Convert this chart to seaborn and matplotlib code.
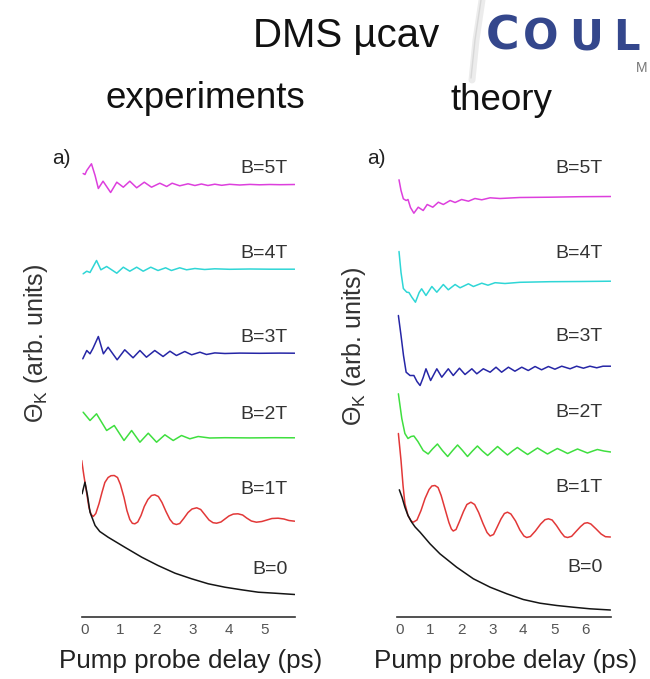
import numpy as np
import pandas as pd
import matplotlib
matplotlib.use("Agg")
import matplotlib.pyplot as plt
import seaborn as sns
from matplotlib.lines import Line2D

sns.set_style("white")
plt.rcParams["font.family"] = ["Liberation Sans", "DejaVu Sans"]
plt.rcParams["mathtext.fontset"] = "custom"
plt.rcParams["mathtext.rm"] = "Liberation Sans"
plt.rcParams["mathtext.it"] = "Liberation Sans:italic"

fields = ["B=5T", "B=4T", "B=3T", "B=2T", "B=1T", "B=0"]
colors = ["#dd3fdd", "#2fd6d6", "#2626a6", "#3fdf3f", "#e23838", "#151515"]

# ---- measured Kerr rotation traces (stacked, arb. units) ----
exp_t_5T = [-0.03, 0.02, 0.07, 0.20, 0.30, 0.39, 0.52, 0.73, 0.90, 1.08, 1.26, 1.45, 1.66, 1.86, 2.09, 2.28,
            2.43, 2.64, 2.87, 3.06, 3.24, 3.42, 3.61, 3.80, 4.02, 4.30, 4.58, 4.85, 5.13, 5.41, 5.82]
exp_5T = [44.3, 44.2, 44.6, 45.27, 44.1, 42.8, 43.53, 42.4, 43.43, 42.93, 43.53, 42.87, 43.43, 42.93, 43.33, 43.0,
          43.33, 43.07, 43.27, 43.1, 43.25, 43.1, 43.23, 43.12, 43.22, 43.15, 43.21, 43.17, 43.2, 43.18, 43.2]

exp_t_4T = [-0.03, 0.07, 0.16, 0.34, 0.46, 0.62, 0.90, 1.08, 1.26, 1.45, 1.63, 1.84, 2.04, 2.25, 2.41, 2.64,
            2.83, 3.06, 3.33, 3.61, 4.02, 4.58, 5.13, 5.82]
exp_4T = [34.27, 34.53, 34.4, 35.6, 34.67, 35.0, 34.33, 34.93, 34.53, 34.93, 34.53, 34.93, 34.6, 34.87, 34.6, 34.87,
          34.67, 34.8, 34.7, 34.77, 34.72, 34.75, 34.73, 34.73]

exp_t_3T = [-0.04, 0.07, 0.16, 0.24, 0.39, 0.53, 0.66, 0.91, 1.12, 1.35, 1.54, 1.72, 1.95, 2.18, 2.37, 2.55,
            2.78, 2.97, 3.20, 3.38, 3.61, 3.89, 4.30, 4.85, 5.41, 5.82]
exp_3T = [25.77, 26.6, 26.27, 26.8, 28.0, 26.27, 26.93, 25.67, 26.67, 25.87, 26.6, 25.93, 26.6, 26.0, 26.53, 26.1,
          26.5, 26.17, 26.43, 26.2, 26.36, 26.3, 26.34, 26.32, 26.34, 26.33]

exp_t_2T = [-0.03, 0.16, 0.34, 0.62, 0.83, 1.10, 1.31, 1.54, 1.77, 2.00, 2.23, 2.46, 2.69, 2.92, 3.15, 3.47,
            3.89, 4.58, 5.27, 5.82]
exp_2T = [20.43, 19.6, 20.27, 18.6, 19.1, 17.6, 18.6, 17.43, 18.33, 17.43, 18.17, 17.6, 18.1, 17.77, 18.0, 17.85,
          17.88, 17.86, 17.88, 17.87]

exp_t_1T = [-0.07, -0.01, 0.07, 0.13, 0.19, 0.25, 0.32, 0.41, 0.49, 0.57, 0.66, 0.74, 0.83, 0.92, 1.00, 1.10,
            1.18, 1.26, 1.33, 1.40, 1.48, 1.57, 1.66, 1.76, 1.86, 1.95, 2.05, 2.15, 2.26, 2.37, 2.46, 2.55,
            2.64, 2.75, 2.87, 2.98, 3.11, 3.22, 3.33, 3.45, 3.56, 3.66, 3.78, 3.89, 4.00, 4.12, 4.25, 4.38,
            4.49, 4.62, 4.76, 4.91, 5.05, 5.19, 5.36, 5.52, 5.66, 5.82]
exp_1T = [15.6, 14.1, 12.3, 10.9, 10.2, 10.0, 10.3, 11.3, 12.4, 13.4, 13.9, 14.08, 14.1, 13.9, 13.2, 11.9,
          10.6, 9.7, 9.32, 9.27, 9.45, 10.1, 11.0, 11.7, 12.1, 12.17, 12.0, 11.4, 10.5, 9.7, 9.3, 9.2,
          9.3, 9.8, 10.4, 10.75, 10.87, 10.7, 10.2, 9.65, 9.38, 9.33, 9.45, 9.75, 10.05, 10.24, 10.27, 10.15,
          9.85, 9.55, 9.43, 9.5, 9.65, 9.8, 9.83, 9.75, 9.6, 9.53]

exp_t_0T = [-0.06, 0.02, 0.09, 0.16, 0.30, 0.43, 0.66, 1.12, 1.59, 2.04, 2.51, 2.97, 3.43, 3.89, 4.35, 4.81,
            5.27, 5.82]
exp_0T = [12.27, 13.43, 12.1, 10.43, 9.1, 8.5, 7.93, 6.93, 5.93, 5.1, 4.33, 3.77, 3.27, 2.93, 2.67, 2.43,
          2.33, 2.2]

# ---- calculated traces (stacked, arb. units) ----
th_t_5T = [-0.01, 0.055, 0.13, 0.22, 0.28, 0.36, 0.47, 0.61, 0.77, 0.90, 1.08, 1.26, 1.42, 1.64, 1.80, 2.01,
           2.23, 2.44, 2.66, 2.93, 3.25, 3.89, 4.86, 5.83, 6.82]
th_5T = [43.67, 42.6, 41.77, 41.6, 41.7, 40.9, 40.33, 40.93, 40.6, 41.2, 40.93, 41.43, 41.2, 41.6, 41.4, 41.7,
         41.53, 41.8, 41.67, 41.87, 41.8, 41.9, 41.93, 41.98, 42.0]

th_t_4T = [-0.01, 0.055, 0.13, 0.24, 0.31, 0.41, 0.52, 0.64, 0.72, 0.86, 1.05, 1.21, 1.42, 1.58, 1.80, 1.96,
           2.23, 2.39, 2.66, 2.86, 3.09, 3.41, 3.89, 4.86, 5.83, 6.82]
th_4T = [36.5, 34.4, 32.8, 32.43, 32.4, 31.9, 31.43, 32.4, 32.77, 32.1, 33.0, 32.43, 33.2, 32.67, 33.2, 32.87,
         33.27, 33.0, 33.33, 33.13, 33.38, 33.3, 33.42, 33.48, 33.5, 33.53]

th_t_3T = [-0.03, 0.055, 0.135, 0.22, 0.345, 0.47, 0.57, 0.67, 0.77, 0.86, 1.01, 1.21, 1.37, 1.58, 1.74, 1.94,
           2.12, 2.34, 2.50, 2.71, 2.93, 3.12, 3.30, 3.52, 3.73, 3.95, 4.16, 4.38, 4.59, 4.81, 5.02, 5.24,
           5.51, 5.72, 5.94, 6.15, 6.37, 6.57, 6.82]
th_3T = [30.1, 28.1, 26.1, 24.43, 24.1, 24.1, 23.5, 23.1, 23.9, 24.77, 23.6, 24.77, 23.93, 24.77, 24.1, 24.83,
         24.2, 24.77, 24.27, 24.77, 24.43, 24.93, 24.43, 24.93, 24.53, 24.93, 24.6, 25.0, 24.67, 25.0, 24.73, 25.03,
         24.77, 25.03, 24.83, 25.03, 24.87, 25.03, 25.03]

th_t_2T = [-0.03, 0.08, 0.18, 0.28, 0.38, 0.47, 0.60, 0.77, 0.93, 1.07, 1.23, 1.39, 1.56, 1.72, 1.88, 2.04,
           2.20, 2.36, 2.52, 2.68, 2.85, 3.01, 3.17, 3.33, 3.49, 3.65, 3.81, 3.97, 4.14, 4.30, 4.46, 4.62,
           4.78, 4.94, 5.10, 5.27, 5.43, 5.59, 5.75, 5.91, 6.07, 6.23, 6.39, 6.60, 6.82]
th_2T = [22.27, 19.8, 18.3, 17.8, 18.0, 18.05, 17.5, 16.6, 16.25, 16.75, 17.25, 16.6, 16.0, 16.6, 17.15, 16.6,
         16.0, 16.55, 17.05, 16.55, 16.1, 16.55, 17.0, 16.57, 16.15, 16.55, 16.9, 16.55, 16.2, 16.53, 16.85, 16.55,
         16.25, 16.53, 16.8, 16.55, 16.3, 16.53, 16.75, 16.55, 16.35, 16.53, 16.7, 16.55, 16.45]

th_t_1T = [-0.03, 0.055, 0.12, 0.18, 0.28, 0.38, 0.45, 0.57, 0.70, 0.83, 0.96, 1.05, 1.15, 1.25, 1.35, 1.47,
           1.60, 1.68, 1.74, 1.83, 1.94, 2.07, 2.18, 2.31, 2.43, 2.56, 2.70, 2.83, 2.93, 3.04, 3.15, 3.28,
           3.39, 3.49, 3.60, 3.75, 3.89, 4.02, 4.11, 4.23, 4.39, 4.56, 4.70, 4.81, 4.93, 5.07, 5.22, 5.33,
           5.43, 5.56, 5.70, 5.85, 5.97, 6.07, 6.18, 6.35, 6.51, 6.65, 6.81]
th_1T = [18.3, 15.6, 13.1, 11.3, 10.1, 9.55, 9.43, 9.65, 10.6, 11.8, 12.7, 13.05, 13.1, 12.9, 12.1, 10.8,
         9.4, 8.75, 8.55, 8.7, 9.5, 10.5, 11.2, 11.43, 11.2, 10.4, 9.3, 8.4, 8.05, 8.2, 8.9, 9.75,
         10.3, 10.43, 10.25, 9.55, 8.65, 8.05, 7.9, 8.0, 8.55, 9.25, 9.68, 9.77, 9.65, 9.1, 8.4, 7.98,
         7.9, 8.02, 8.5, 9.0, 9.32, 9.38, 9.25, 8.75, 8.25, 7.98, 7.95]

th_t_0T = [0.0, 0.09, 0.18, 0.28, 0.40, 0.51, 0.67, 0.99, 1.31, 1.85, 2.39, 2.93, 3.47, 4.00, 4.54, 5.08,
           5.61, 6.15, 6.81]
th_0T = [12.67, 11.9, 10.93, 10.1, 9.43, 8.95, 8.43, 7.27, 6.27, 4.93, 3.77, 2.93, 2.27, 1.7, 1.33, 1.1,
         0.93, 0.77, 0.65]

exp_ticks = [0, 1, 2, 3, 4, 5]
th_ticks = [0, 1, 2, 3, 4, 5, 6]


def long_frame(times, values):
    parts = []
    for name, t, v in zip(fields, times, values):
        parts.append(pd.DataFrame({"delay": t, "theta": v, "field": name}))
    return pd.concat(parts, ignore_index=True)


exp_df = long_frame([exp_t_5T, exp_t_4T, exp_t_3T, exp_t_2T, exp_t_1T, exp_t_0T],
                    [exp_5T, exp_4T, exp_3T, exp_2T, exp_1T, exp_0T])
th_df = long_frame([th_t_5T, th_t_4T, th_t_3T, th_t_2T, th_t_1T, th_t_0T],
                   [th_5T, th_4T, th_3T, th_2T, th_1T, th_0T])

W, H = 650, 679
fig = plt.figure(figsize=(W / 100, H / 100), dpi=100)


def fx(px):
    return px / W


def fy(py):
    return 1 - py / H


palette = dict(zip(fields, colors))
ymax = 47.65


def panel(left_px, xlim, df, ticks, label_x, label_y):
    ax = fig.add_axes([fx(left_px), fy(616.5), fx(213.4), (616.5 - 140) / H])
    sns.lineplot(data=df, x="delay", y="theta", hue="field", palette=palette,
                 estimator=None, sort=False, legend=False, lw=1.1, ax=ax)
    ax.set_xlim(*xlim)
    ax.set_ylim(0, ymax)
    for s in ["left", "top", "right"]:
        ax.spines[s].set_visible(False)
    ax.spines["bottom"].set_color("#333333")
    ax.spines["bottom"].set_linewidth(1.2)
    ax.set_yticks([])
    ax.set_xticks(ticks)
    ax.set_xticklabels([str(t) for t in ticks])
    ax.set_xticks(np.arange(0.5, ticks[-1] + 0.9, 1.0), minor=True)
    ax.tick_params(axis="x", which="both", direction="inout", length=5, width=1.0,
                   color="#333333", labelsize=11, labelcolor="#555555", pad=2)
    ax.set_xlabel("")
    ax.set_ylabel("")
    ax.patch.set_alpha(0)
    for name, ly in zip(fields, label_y):
        ax.text(label_x, ly, name, ha="right", va="baseline", fontsize=14, color="#333333")
    return ax


ax_exp = panel(81.7, (-0.07, 5.83), exp_df, exp_ticks, 5.63,
               [44.3, 35.8, 27.4, 19.7, 12.3, 4.3])
ax_th = panel(397.3, (-0.065, 6.82), th_df, th_ticks, 6.57,
              [44.3, 35.8, 27.5, 19.9, 12.4, 4.4])

# panel labels and axis titles
fig.text(fx(52), fy(164), "a)", fontsize=15, color="#222222", va="baseline")
fig.text(fx(367), fy(164), "a)", fontsize=15, color="#222222", va="baseline")
ylab = r"$\Theta_{\mathrm{K}}$ (arb. units)"
fig.text(fx(36), fy(343), ylab, rotation=90, ha="center", va="center", fontsize=18, color="#333333")
fig.text(fx(354), fy(346), ylab, rotation=90, ha="center", va="center", fontsize=18, color="#333333")
fig.text(fx(191), fy(668), "Pump probe delay (ps)", ha="center", va="baseline", fontsize=18.7, color="#222222")
fig.text(fx(506), fy(668), "Pump probe delay (ps)", ha="center", va="baseline", fontsize=18.7, color="#222222")

# slide headings
fig.text(fx(346), fy(47), "DMS µcav", ha="center", va="baseline", fontsize=29, color="#111111")
fig.text(fx(205), fy(108), "experiments", ha="center", va="baseline", fontsize=26.5, color="#111111")
fig.text(fx(501), fy(110), "theory", ha="center", va="baseline", fontsize=26.5, color="#111111")

# logo fragment at the top right
fig.add_artist(Line2D([fx(482), fx(476), fx(472)], [fy(0), fy(40), fy(80)],
                      color="#ececec", lw=5, solid_capstyle="round"))
fig.add_artist(Line2D([fx(481), fx(475), fx(471)], [fy(0), fy(40), fy(78)],
                      color="#d8d8d8", lw=1.0))
logo = dict(fontweight="bold", color="#34478c", va="baseline", family="DejaVu Sans")
fig.text(fx(486), fy(50), "C", fontsize=33, **logo)
fig.text(fx(523), fy(50), "O", fontsize=30, **logo)
fig.text(fx(569), fy(50), "U", fontsize=30, **logo)
fig.text(fx(613), fy(50), "L", fontsize=30, **logo)
fig.text(fx(636), fy(72), "M", fontsize=10, color="#777777", va="baseline")

fig.savefig("out.png", dpi=100)
